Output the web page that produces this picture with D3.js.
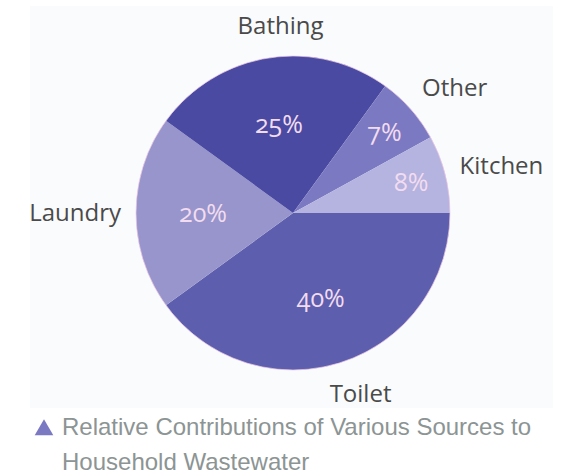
<!DOCTYPE html>
<html>
<head>
<meta charset="utf-8">
<script src="https://cdn.jsdelivr.net/npm/d3@7"></script>
<style>
  html, body { margin: 0; padding: 0; background: #fff; }
  svg { display: block; }
</style>
</head>
<body>
<svg id="chart" width="579" height="476"></svg>
<script>
// data (clockwise from 3 o'clock)
const categories = ["Toilet", "Laundry", "Bathing", "Other", "Kitchen"];
const values = [40, 20, 25, 7, 8];
const colors = ["#5e5eae", "#9795cb", "#4a4aa3", "#7b79c2", "#b5b3df"];
const captionLines = ["Relative Contributions of Various Sources to", "Household Wastewater"];

const width = 579
    , height = 476
    , cx = 293
    , cy = 213
    , radius = 157
    , svg = d3.select("#chart");

// light panel behind the pie
svg.append("rect")
    .attr("x", 30)
    .attr("y", 6)
    .attr("width", 523)
    .attr("height", 402)
    .attr("fill", "#fafbfd");

const pie = d3.pie()
    .sort(null)
    .startAngle(Math.PI / 2)
    .endAngle(Math.PI / 2 + 2 * Math.PI)
    .value(d => d.value);

const arcs = pie(categories.map((c, i) => ({ name: c, value: values[i], color: colors[i] })));

const arc = d3.arc().innerRadius(0).outerRadius(radius);
const g = svg.append("g").attr("transform", "translate(" + cx + "," + cy + ")");

// slices
g.selectAll("path.slice")
    .data(arcs)
    .enter()
    .append("path")
    .attr("class", "slice")
    .attr("d", arc)
    .attr("fill", d => d.data.color);

// faint pink rim
g.append("circle")
    .attr("r", radius)
    .attr("fill", "none")
    .attr("stroke", "#ecc8e6")
    .attr("stroke-width", 1)
    .attr("opacity", 0.7);

const midAngle = d => (d.startAngle + d.endAngle) / 2;
const polar = (d, rx, ry) => [Math.sin(midAngle(d)) * rx, -Math.cos(midAngle(d)) * ry];
const anchorOf = d => {
    const s = Math.sin(midAngle(d));
    return Math.abs(s) < 0.35 ? "middle" : (s > 0 ? "start" : "end");
};

// percent labels inside (small slices pushed outward)
g.selectAll("text.pct")
    .data(arcs)
    .enter()
    .append("text")
    .attr("class", "pct")
    .attr("transform", d => {
        const r = d.data.value < 10 ? 122 : 90;
        return "translate(" + polar(d, r, r) + ")";
    })
    .attr("text-anchor", "middle")
    .attr("dy", "0.35em")
    .style("font-family", "'Open Sans', sans-serif")
    .style("font-size", "25px")
    .style("font-variant-numeric", "oldstyle-nums")
    .attr("fill", "#f2dcef")
    .text(d => d.data.value + "%");

// category labels outside, on a slightly tall ellipse
g.selectAll("text.cat")
    .data(arcs)
    .enter()
    .append("text")
    .attr("class", "cat")
    .attr("transform", d => "translate(" + polar(d, 172, 190) + ")")
    .attr("text-anchor", anchorOf)
    .attr("dx", d => anchorOf(d) === "middle" ? "0.6em" : 0)
    .attr("dy", "0.35em")
    .style("font-family", "'Open Sans', sans-serif")
    .style("font-size", "24px")
    .attr("fill", "#4a4a4a")
    .text(d => d.data.name);

// caption
svg.append("path")
    .attr("d", d3.symbol().type(d3.symbolTriangle).size(150)())
    .attr("transform", "translate(44,430)")
    .attr("fill", "#7b79c2");

svg.selectAll("text.caption")
    .data(captionLines)
    .enter()
    .append("text")
    .attr("class", "caption")
    .attr("x", 62)
    .attr("y", (d, i) => 435 + i * 35)
    .style("font-family", "'Liberation Sans', Arial, sans-serif")
    .style("font-size", "24px")
    .attr("fill", "#8c9494")
    .text(d => d);
</script>
</body>
</html>
